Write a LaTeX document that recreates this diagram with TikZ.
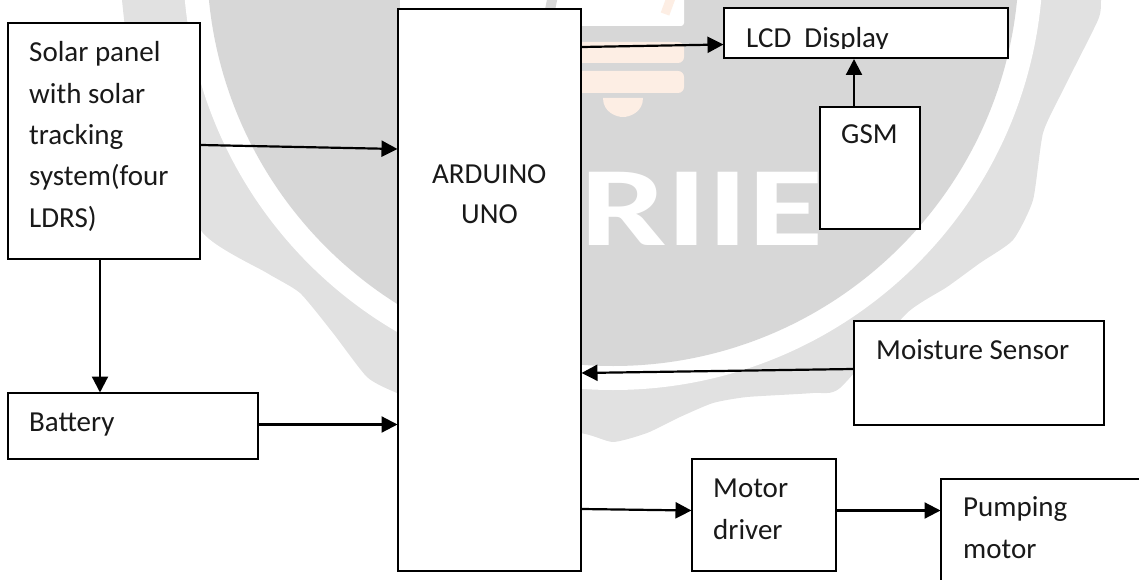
\documentclass[tikz,border=0pt]{standalone}
\usepackage{fontspec}
\setmainfont{Carlito}
\usetikzlibrary{arrows.meta}
\definecolor{markouter}{HTML}{E1E1E1}
\definecolor{markinner}{HTML}{D7D7D7}
\definecolor{bulbtint}{HTML}{FDEEE4}
\begin{document}
\begin{tikzpicture}[x=1pt,y=-1pt]
	\tikzset{blockbox/.style={draw=black, fill=white, line width=2pt, inner sep=0pt}}
	\tikzset{blocktext/.style={anchor=base west, inner sep=0pt, text=black!90, font=\fontsize{29}{41.3}\selectfont, align=left}}
	\tikzset{link/.style={line width=2.2pt, -{Triangle[length=16pt,width=16pt]}, shorten >=-0.5pt}}
	\useasboundingbox (0,0) rectangle (1139,580);
	\clip (0,0) rectangle (1139,580);
	\fill[markouter] plot[smooth cycle, tension=0.35] coordinates {(122,-60) (122,0) (140,120) (203,233) (267,273) (300,293) (333,333) (367,377) (397,393) (480,425) (580,433) (613,442) (647,433) (680,417) (713,403) (747,397) (813,393) (840,388) (907,313) (947,287) (980,263) (1013,240) (1033,200) (1043,133) (1063,90) (1098,20) (1101,0) (1101,-30)};
	\fill[white] (613,-40) circle[radius=430];
	\fill[markinner] (613,-40) circle[radius=406];
	\fill[white, rounded corners=3pt] (400,-10) rectangle (684,26);
	\draw[markinner, line width=10pt] (553,-5) -- (546,30);
	\draw[bulbtint, line width=9pt] (672,-5) -- (665,14);
	\fill[bulbtint, rounded corners=6pt] (570,42) rectangle (684,63);
	\fill[bulbtint, rounded corners=6pt] (570,71) rectangle (684,93);
	\fill[bulbtint] (603,98) -- (643,98) .. controls (643,112) and (630,117) .. (623,117) .. controls (616,117) and (603,112) .. (603,98) -- cycle;
	\node[anchor=base west, inner sep=0pt, text=white, font=\fontsize{113}{113}\selectfont\bfseries, xscale=1.36] (watermark) at (580,245) {RIIE};
	\node[blockbox, minimum width=192pt, minimum height=236pt] (solar) at (104,141) {};
	\node[blockbox, minimum width=183pt, minimum height=562pt] (arduino) at (489.5,290) {};
	\node[blockbox, minimum width=284pt, minimum height=50pt] (lcd) at (866,33.5) {};
	\node[blockbox, minimum width=100pt, minimum height=122pt] (gsm) at (870,168) {};
	\node[blockbox, minimum width=250pt, minimum height=104pt] (moisture) at (979,373) {};
	\node[blockbox, minimum width=250pt, minimum height=66pt] (battery) at (133,426) {};
	\node[blockbox, minimum width=144pt, minimum height=112pt] (driver) at (764,515) {};
	\node[blockbox, minimum width=230pt, minimum height=140pt] (pump) at (1056,549) {};
	\draw[link] ([yshift=-4pt]solar.east) -- ([yshift=141pt]arduino.west);
	\draw[link] ([xshift=-4pt]solar.south) -- ([xshift=-33pt]battery.north);
	\draw[link] ([yshift=1.5pt]battery.east) -- ([yshift=-134.5pt]arduino.west);
	\draw[link] ([yshift=243pt]arduino.east) -- ([yshift=-11pt]lcd.west);
	\draw[link] ([xshift=-16pt]gsm.north) -- ([xshift=-12pt]lcd.south);
	\draw[link] ([yshift=4pt]moisture.west) -- ([yshift=-83pt]arduino.east);
	\draw[link] ([yshift=-219pt]arduino.east) -- ([yshift=4.5pt]driver.west);
	\draw[link] ([yshift=4.5pt]driver.east) -- ([yshift=38.5pt]pump.west);
	\node[blocktext] (solartext) at (29,227) {Solar panel\\with solar\\tracking\\system(four\\LDRS)};
	\node[blocktext] (arduinotext) at (432,183) {ARDUINO};
	\node[blocktext] (unotext) at (461,223) {UNO};
	\begin{scope}
		\clip (730,12) rectangle (1000,48.5);
		\node[blocktext] (lcdtext) at (746,47.7) {LCD\ \ Display};
	\end{scope}
	\node[blocktext] (gsmtext) at (841,144) {GSM};
	\node[blocktext] (moisturetext) at (876,359) {Moisture Sensor};
	\node[blocktext] (batterytext) at (29,431) {Battery};
	\node[blocktext] (drivertext) at (713,539) {Motor\\driver};
	\node[blocktext] (pumptext) at (963,558) {Pumping\\motor};
\end{tikzpicture}
\end{document}
